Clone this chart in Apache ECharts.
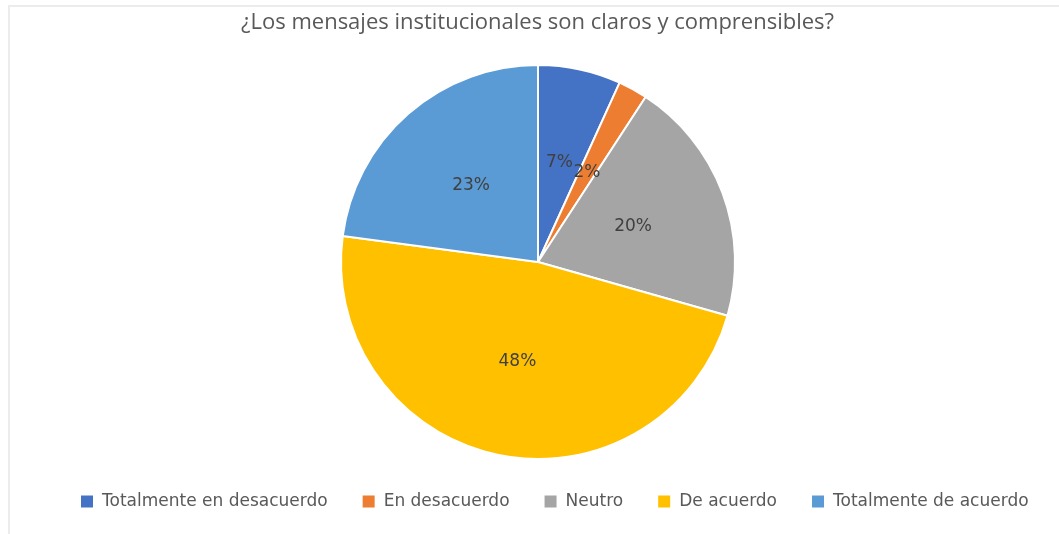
<!DOCTYPE html>
<html>
<head>
<meta charset="utf-8">
<script src="https://cdn.jsdelivr.net/npm/echarts@6/dist/echarts.min.js"></script>
<style>
  html, body { margin: 0; padding: 0; background: #fff; }
  #frame { position: absolute; left: 8px; top: 5px; width: 1051px; height: 529px;
    border-top: 2px solid #ececec; border-left: 2px solid #ececec; box-sizing: border-box; }
  #chart { position: absolute; left: 0; top: 0; width: 1059px; height: 534px; }
</style>
</head>
<body>
<div id="frame"></div>
<div id="chart"></div>
<script>
let categories = ['Totalmente en desacuerdo', 'En desacuerdo', 'Neutro', 'De acuerdo', 'Totalmente de acuerdo']
let values = [6.8, 2.4, 20.2, 47.7, 22.9]
let colors = ['#4472C4', '#ED7D31', '#A5A5A5', '#FFC000', '#5B9BD5']

let pieData = []
for (let i in categories) {
  pieData.push({ name: categories[i], value: values[i] })
}

let myChart = echarts.init(document.getElementById('chart'))
myChart.setOption({
  animation: false,
  title: {
    text: '¿Los mensajes institucionales son claros y comprensibles?',
    left: 236,
    top: 7,
    textStyle: {
      color: '#595959',
      fontSize: 22,
      fontWeight: 'normal',
      fontFamily: 'Open Sans'
    }
  },
  legend: {
    bottom: 19,
    left: 74,
    itemWidth: 14,
    itemHeight: 14,
    itemGap: 33,
    icon: 'rect',
    textStyle: {
      color: '#595959',
      fontSize: 17,
      fontFamily: 'DejaVu Sans',
      padding: [0, 0, 0, 3]
    },
    data: categories
  },
  color: colors,
  series: [{
    type: 'pie',
    radius: 197,
    center: [538, 262],
    startAngle: 90,
    clockwise: true,
    data: pieData,
    itemStyle: {
      borderColor: '#fff',
      borderWidth: 2
    },
    label: {
      show: true,
      position: 'inside',
      color: '#404040',
      fontSize: 17,
      fontFamily: 'DejaVu Sans',
      formatter: function (params) {
        return Math.round(params.percent) + '%'
      }
    },
    labelLine: { show: false }
  }]
})
</script>
</body>
</html>
